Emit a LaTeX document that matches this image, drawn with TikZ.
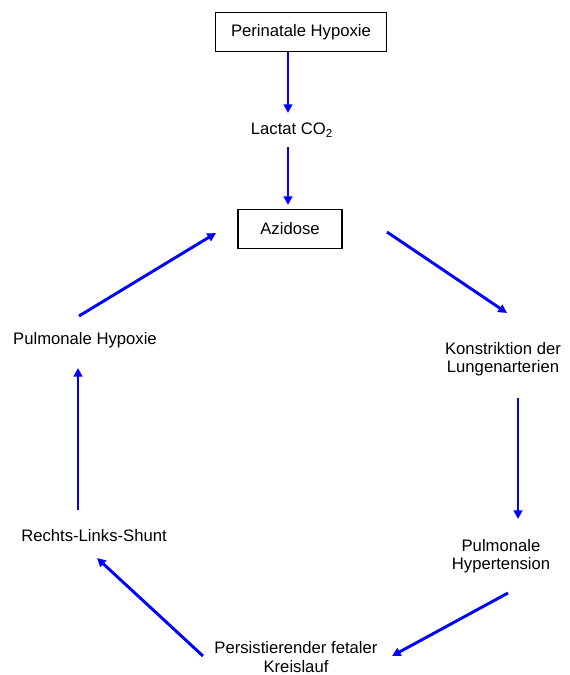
\documentclass[tikz,border=0pt]{standalone}
\usepackage{fontspec}
\setmainfont{Liberation Sans}
\usetikzlibrary{arrows.meta}

\begin{document}
\begin{tikzpicture}[x=0.75pt, y=-0.75pt,
    every node/.style={font=\fontsize{12.5}{13.6}\selectfont, text=black},
    % Stile
    box/.style={
        draw=black, line width=0.8pt, fill=white,
        minimum width=#1, minimum height=29pt, inner sep=0pt
    },
    lbl/.style={
        align=center, inner sep=0pt
    },
    conn/.style={
        -{Triangle[length=6.5pt, width=6.5pt]}, line width=2.2pt, blue
    }
]
\useasboundingbox (0,0) rectangle (570,675);

% =============================================
% AUSLOESER (oben)
% =============================================
\node[box=128pt] (peri) at (301, 32) {Perinatale Hypoxie};
\node[lbl] (lact) at (292, 130) {Lactat CO\textsubscript{2}};
\node[box=78pt] (azid) at (290, 229) {Azidose};

\draw[conn] ([shift={(-13,20)}]peri.center) -- ([shift={(-4,-17)}]lact.center);
\draw[conn] ([shift={(-4,17)}]lact.center) -- ([shift={(-2,-24)}]azid.center);

% =============================================
% KREISLAUF (rechte Seite)
% =============================================
\node[lbl] (konst) at (503, 359) {Konstriktion der\\Lungenarterien};
\node[lbl] (hyper) at (501, 556) {Pulmonale\\Hypertension};

\draw[conn] ([shift={(97,3)}]azid.center) -- ([shift={(4,-46)}]konst.center);
\draw[conn] ([shift={(15,39)}]konst.center) -- ([shift={(17,-37)}]hyper.center);

% =============================================
% KREISLAUF (unten und links)
% =============================================
\node[lbl] (pers)  at (296, 657) {Persistierender fetaler\\Kreislauf};
\node[lbl] (shunt) at (94, 536)  {Rechts-Links-Shunt};
\node[lbl] (hypox) at (85, 340)  {Pulmonale Hypoxie};

\draw[conn] ([shift={(7,37)}]hyper.center) -- ([shift={(96,-1)}]pers.center);
\draw[conn] ([shift={(-93,-1)}]pers.center) -- ([shift={(3,22)}]shunt.center);
\draw[conn] ([shift={(-16,-26)}]shunt.center) -- ([shift={(-7,28)}]hypox.center);
\draw[conn] ([shift={(-6,-24)}]hypox.center) -- ([shift={(-74,4)}]azid.center);

\end{tikzpicture}
\end{document}
